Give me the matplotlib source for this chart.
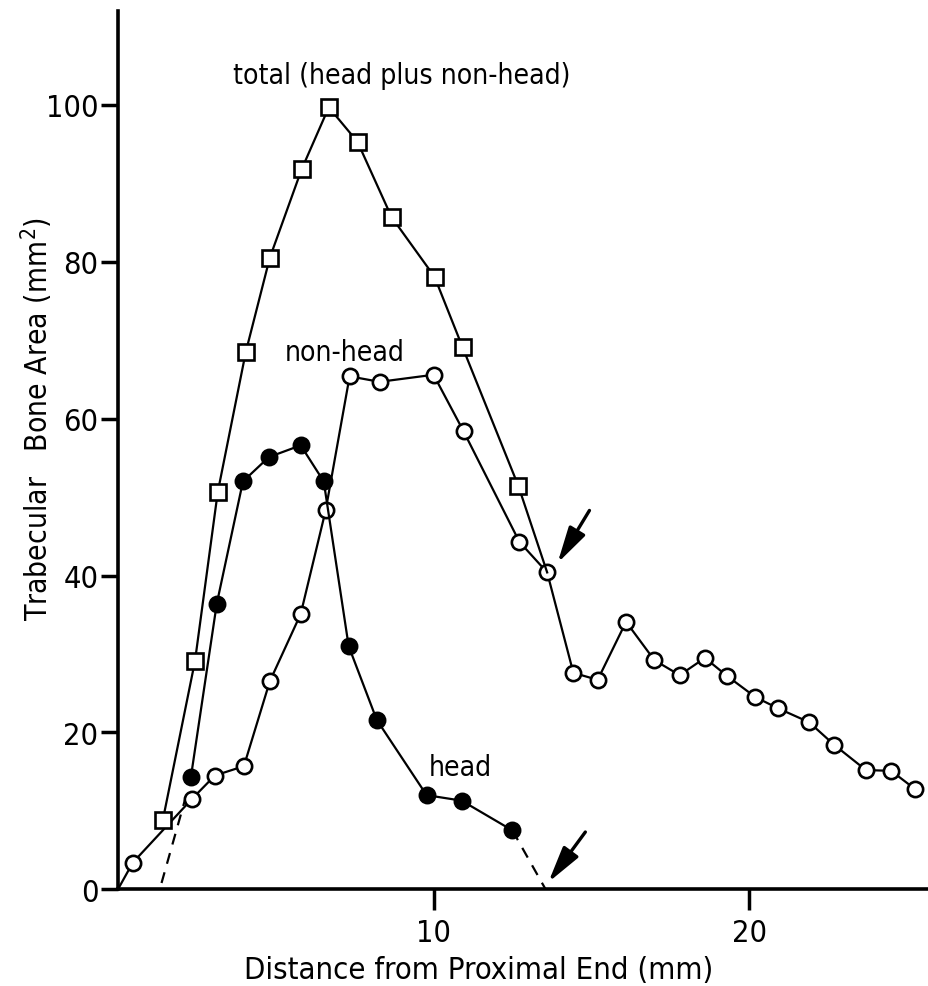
import numpy as np
import matplotlib
matplotlib.use("Agg")
import matplotlib.pyplot as plt
from matplotlib import font_manager as fm

# use a condensed face when there is one, the reference type is tall and narrow
cond_path = fm.findfont(fm.FontProperties(family="DejaVu Sans", stretch="condensed"))
if "ondensed" in cond_path:
    plt.rcParams['font.stretch'] = 'condensed'
    k = 1.1
else:
    k = 1.0
plt.rcParams['font.family'] = ['DejaVu Sans']

# non-head (open circles)
nonhead_x = [0.0, 0.47, 2.34, 3.07, 3.99, 4.81, 5.79, 6.58, 7.34, 8.29, 10.0, 10.95,
             12.72, 13.6, 14.43, 15.2, 16.1, 17.0, 17.8, 18.6, 19.3, 20.2, 20.9,
             21.9, 22.7, 23.7, 24.5, 25.25]
nonhead_y = [0.0, 3.4, 11.5, 14.5, 15.7, 26.5, 35.1, 48.3, 65.4, 64.7, 65.6, 58.4,
             44.3, 40.4, 27.6, 26.7, 34.1, 29.2, 27.3, 29.5, 27.2, 24.5, 23.1,
             21.3, 18.4, 15.2, 15.1, 12.8]

# total (open squares), last point meets the non-head curve at the arrow
total_x = [1.42, 2.44, 3.16, 4.05, 4.81, 5.82, 6.68, 7.59, 8.67, 10.03, 10.92, 12.69, 13.6]
total_y = [8.8, 29.1, 50.6, 68.5, 80.5, 91.8, 99.7, 95.3, 85.7, 78.1, 69.1, 51.4, 40.4]

# head (filled circles)
head_x = [2.31, 3.13, 3.96, 4.78, 5.79, 6.52, 7.31, 8.2, 9.78, 10.89, 12.5]
head_y = [14.3, 36.4, 52.0, 55.1, 56.6, 52.0, 31.0, 21.6, 12.0, 11.3, 7.5]

# dashed extrapolations of head curve
dash_lo_x = [1.38, 2.2]
dash_lo_y = [0.8, 12.5]
dash_hi_x = [12.5, 13.55]
dash_hi_y = [7.5, 0.0]

fig = plt.figure(figsize=(9.29, 9.87), dpi=100)
ax = fig.add_axes([0.127, 0.098, 0.873, 0.89])

lw = 1.6
ms = 11
mew = 1.9

ax.plot(nonhead_x, nonhead_y, color="black", lw=lw, marker="o", ms=ms,
        mfc="white", mec="black", mew=mew, markevery=list(range(1, len(nonhead_x))),
        clip_on=False, zorder=3)
ax.plot(total_x, total_y, color="black", lw=lw, marker="s", ms=ms,
        mfc="white", mec="black", mew=mew, markevery=list(range(len(total_x) - 1)),
        clip_on=False, zorder=3)
ax.plot(head_x, head_y, color="black", lw=lw, marker="o", ms=ms,
        mfc="black", mec="black", mew=mew, clip_on=False, zorder=4)
ax.plot(dash_lo_x, dash_lo_y, color="black", lw=lw, ls=(0, (5, 4)), zorder=2)
ax.plot(dash_hi_x, dash_hi_y, color="black", lw=lw, ls=(0, (5, 4)), zorder=2)

# arrows
arrow_kw = dict(arrowstyle="-|>,head_length=1.1,head_width=0.28", color="black",
                lw=2.4, mutation_scale=20, shrinkA=0, shrinkB=0)
ax.annotate("", xy=(13.93, 41.6), xytext=(14.94, 48.3), arrowprops=arrow_kw)
ax.annotate("", xy=(13.64, 0.9), xytext=(14.81, 7.3), arrowprops=arrow_kw)

ax.text(3.65, 103.8, "total (head plus non-head)", fontsize=18.5 * k, va="center", ha="left")
ax.text(5.3, 68.5, "non-head", fontsize=18.5 * k, va="center", ha="left")
ax.text(9.85, 15.6, "head", fontsize=18.5 * k, va="center", ha="left")

ax.set_xlim(0, 25.7)
ax.set_ylim(0, 112)
ax.set_xticks([10, 20])
ax.set_yticks([0, 20, 40, 60, 80, 100])
ax.tick_params(axis="y", direction="out", length=12, width=2.5, labelsize=20 * k, pad=2)
ax.tick_params(axis="x", direction="out", length=15, width=2.5, labelsize=20 * k, pad=6)

for s in ["top", "right"]:
    ax.spines[s].set_visible(False)
for s in ["left", "bottom"]:
    ax.spines[s].set_linewidth(2.6)

ax.set_xlabel("Distance from Proximal End (mm)", fontsize=20.2 * k, va="center")
ax.xaxis.set_label_coords(0.445, -0.091)
ax.set_ylabel("Trabecular   Bone Area (mm$^2$)", fontsize=19.6 * k, va="center")
ax.yaxis.set_label_coords(-0.1, 0.537)

fig.savefig("out.png", dpi=100)
